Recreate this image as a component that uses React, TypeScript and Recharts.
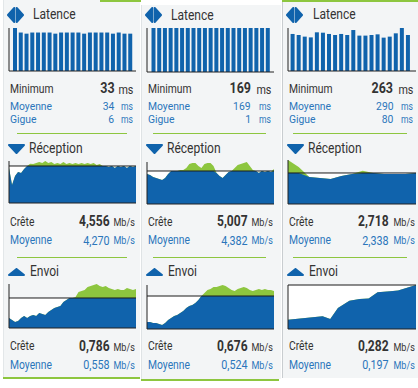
import React from "react";
import { AreaChart, Area, BarChart, Bar, XAxis, YAxis, ReferenceLine } from "recharts";

const W = 418;
const H = 388;
const BLUE = "#1063ac";
const GREEN = "#8dc63f";
const TEXT = "#333333";
const LINK = "#2b76bb";
const PANEL = "#f3f5f6";
const FONT = "Roboto, 'Noto Sans', sans-serif";

// latence, une barre par ping (ms)
const pingA = [38, 34, 33, 34, 34, 34, 34, 33, 34, 34, 34, 34, 33, 34, 34, 34, 34, 33, 34, 33, 33];
const pingB = [169, 169, 169, 169, 169, 169, 169, 169, 169, 169, 169, 169, 169, 169, 169, 169, 169, 169, 169, 169, 169];
const pingC = [292, 284, 271, 265, 305, 302, 292, 284, 292, 284, 323, 279, 279, 284, 289, 263, 271, 297, 339, 284];
const pingMax = [38, 169, 339];

const latMin = [33, 169, 263];
const latAvg = [34, 169, 290];
const latJitter = [6, 1, 80];

// réception (Mb/s)
const recvA = [4.16, 3.18, 3.7, 3.93, 3.87, 4.1, 4.27, 4.4, 4.38, 4.44, 4.5, 4.44, 4.556, 4.44, 4.5, 4.38, 4.44, 4.38, 4.5, 4.38, 4.44, 4.38, 4.44, 4.38, 4.44, 4.38, 4.44, 4.38, 4.44, 4.33, 4.38, 4.27, 4.27, 4.21, 4.27, 4.16, 4.27, 4.21, 4.27, 4.16, 4.27, 4.21, 4.27];
const recvB = [4.18, 4.11, 3.97, 3.9, 3.83, 3.76, 3.9, 4.18, 4.38, 4.38, 4.38, 4.45, 4.45, 4.59, 4.87, 4.94, 4.94, 4.73, 4.59, 4.87, 4.94, 4.94, 4.73, 4.25, 4.04, 3.9, 4.11, 4.31, 4.38, 4.59, 4.8, 4.87, 4.94, 5.007, 4.73, 4.45, 4.38, 4.25, 4.38, 4.31, 4.38, 4.31, 4.52];
const recvC = [2.718, 2.51, 2.22, 2.19, 2.16, 2.25, 2.31, 2.4, 2.34, 2.31, 2.31, 2.31, 2.34];
const recvPeak = [4.556, 5.007, 2.718];
const recvAvg = [4.27, 4.382, 2.338];
const recvFloor = [2.15, 2.09, 1.43];

// envoi (Mb/s)
const sendA = [0.232, 0.199, 0.167, 0.183, 0.232, 0.265, 0.232, 0.265, 0.281, 0.265, 0.314, 0.297, 0.281, 0.33, 0.362, 0.395, 0.411, 0.428, 0.493, 0.525, 0.558, 0.558, 0.574, 0.656, 0.672, 0.688, 0.737, 0.754, 0.77, 0.786, 0.754, 0.737, 0.754, 0.721, 0.705, 0.688, 0.705, 0.688, 0.688, 0.721, 0.705, 0.688, 0.705];
const sendB = [0.165, 0.165, 0.151, 0.151, 0.137, 0.123, 0.151, 0.192, 0.22, 0.248, 0.261, 0.289, 0.317, 0.358, 0.386, 0.4, 0.427, 0.469, 0.524, 0.566, 0.607, 0.621, 0.648, 0.648, 0.662, 0.676, 0.662, 0.635, 0.607, 0.593, 0.621, 0.635, 0.648, 0.635, 0.607, 0.593, 0.607, 0.621, 0.607, 0.621, 0.607, 0.607, 0.593];
const sendC = [0.154, 0.167, 0.157, 0.197, 0.224, 0.23, 0.232, 0.255, 0.259, 0.262, 0.282];
const sendCTime = [0, 2.7, 3.3, 3.9, 4.8, 5.6, 6.3, 7.0, 8.0, 8.6, 10];
const sendPeak = [0.786, 0.676, 0.282];
const sendAvg = [0.558, 0.524, 0.197];
// the third card draws its line at the top of the chart
const sendRef = [0.558, 0.524, 0.282];
const sendFloor = [0.069, 0.068, 0.12];

const pings = [pingA, pingB, pingC];
const recvs = [recvA, recvB, recvC];
const sends = [sendA, sendB, sendC];
const sendTimes = [null, null, sendCTime];

const cols = [
  {
    bg: [3, 0, 137, 377], border: "#e3e7e9", topLine: [100, 141], bottomLine: [377, 3, 140],
    label: 10, plotL: 9, plotR: 136, pad: [3, 3],
    icon: 7, head: 33, headR: 29.3, headE: 30, sep: [17, 127],
    valMs: 114.3, unitMs: 133.3, valMb: 110, unitMb: 135,
    ping: [28, 71], recv: [161, 203], send: [284, 328], latBase: 19.3,
  },
  {
    bg: [141, 5, 140, 374], border: "#dfe3e5", topLine: null, bottomLine: [379, 141, 279],
    label: 148, plotL: 147, plotR: 274, pad: [3.5, 3.5],
    icon: 145, head: 171, headR: 167.3, headE: 168, sep: [153, 266],
    valMs: 251, unitMs: 271.3, valMb: 248, unitMb: 273,
    ping: [28, 72], recv: [162, 204], send: [285, 329], latBase: 20,
  },
  {
    bg: [282, 0, 136, 378], border: "#c9cdd0", topLine: [282, 418], bottomLine: null,
    label: 289, plotL: 288, plotR: 416, pad: [1.6, 5],
    icon: 286, head: 313, headR: 308.3, headE: 309.3, sep: [293, 407],
    valMs: 393.3, unitMs: 413.3, valMb: 389, unitMb: 415,
    ping: [28, 71], recv: [160, 204], send: [285, 329], latBase: 19,
  },
];

const fmt = (v: number) => v.toFixed(3).replace(".", ",");

// text placed on its baseline; the line box is kept tight so rows don't overlap
function Txt({ x, r, base, size, color = TEXT, bold = false, sx = 0.86, children }: any) {
  const lh = size * 0.8;
  const style: React.CSSProperties = {
    position: "absolute",
    top: base - lh / 2 - 0.342 * size,
    fontSize: size,
    lineHeight: `${lh}px`,
    height: lh,
    color,
    fontWeight: bold ? 700 : 400,
    whiteSpace: "nowrap",
    transform: `scaleX(${sx})`,
    transformOrigin: r !== undefined ? "right center" : "left center",
  };
  if (r !== undefined) style.right = W - r;
  else style.left = x;
  return <div style={style}>{children}</div>;
}

function PingIcon({ x, y }: { x: number; y: number }) {
  return (
    <svg style={{ position: "absolute", left: x, top: y }} width={17} height={16} viewBox="0 0 17 16">
      <path d="M1 8 L7.3 1 L7.3 15 Z" fill={BLUE} stroke={BLUE} strokeWidth={2} strokeLinejoin="round" />
      <path d="M16 8 L9.7 1 L9.7 15 Z" fill={BLUE} stroke={BLUE} strokeWidth={2} strokeLinejoin="round" />
    </svg>
  );
}

function TriIcon({ x, y, up }: { x: number; y: number; up: boolean }) {
  return (
    <svg style={{ position: "absolute", left: x, top: y }} width={17} height={up ? 8 : 10}>
      <path
        d={up ? "M1 7 L8.5 1 L16 7 Z" : "M1 1 L16 1 L8.5 9 Z"}
        fill={BLUE}
        stroke={BLUE}
        strokeWidth={2}
        strokeLinejoin="round"
      />
    </svg>
  );
}

function PingChart({ left, right, top, bottom, values, max, pad }: any) {
  const data = values.map((ms: number, i: number) => ({ i, ms }));
  return (
    <div style={{ position: "absolute", left: left - 1, top: top - 1 }}>
      <BarChart
        width={right - left + 1}
        height={bottom - top + 2}
        data={data}
        margin={{ top: 1, right: 0, bottom: 0, left: 0 }}
        barCategoryGap={0}
      >
        <XAxis dataKey="i" height={1} tick={false} tickLine={false} axisLine={{ stroke: "#222" }} padding={{ left: pad[0], right: pad[1] }} />
        <YAxis domain={[0, max]} allowDataOverflow width={1} tick={false} tickLine={false} axisLine={{ stroke: "#222" }} />
        <Bar dataKey="ms" fill={BLUE} barSize={4} isAnimationActive={false} />
      </BarChart>
    </div>
  );
}

function RateChart({ left, right, top, bottom, values, times, floor, peak, line }: any) {
  const data = values.map((v: number, i: number) => ({
    t: times ? times[i] : i,
    v,
    c: Math.min(v, line),
    w: line,
  }));
  const last = data[data.length - 1].t;
  return (
    <div style={{ position: "absolute", left: left - 1, top: top - 1 }}>
      <AreaChart
        width={right - left + 1}
        height={bottom - top + 2}
        data={data}
        margin={{ top: 1, right: 0, bottom: 0, left: 0 }}
      >
        <XAxis dataKey="t" type="number" domain={[0, last]} allowDataOverflow height={1} tick={false} tickLine={false} axisLine={{ stroke: "#222" }} />
        <YAxis domain={[floor, peak]} allowDataOverflow width={1} tick={false} tickLine={false} axisLine={{ stroke: "#222" }} />
        <Area dataKey="w" type="linear" stroke="none" fill="#ffffff" fillOpacity={1} isAnimationActive={false} />
        <Area dataKey="v" type="linear" stroke="none" fill={GREEN} fillOpacity={1} isAnimationActive={false} />
        <Area dataKey="c" type="linear" stroke="none" fill={BLUE} fillOpacity={1} isAnimationActive={false} />
        <ReferenceLine y={line} stroke="#1b1b1b" strokeWidth={1} />
      </AreaChart>
    </div>
  );
}

function Column({ c, k }: any) {
  const [bx, by, bw, bh] = c.bg;
  return (
    <>
      <div style={{ position: "absolute", left: bx, top: by, width: bw, height: bh, background: PANEL, borderLeft: `1px solid ${c.border}`, boxSizing: "border-box" }} />
      {c.topLine && <div style={{ position: "absolute", left: c.topLine[0], top: 0, width: c.topLine[1] - c.topLine[0], height: 1.5, background: GREEN }} />}
      {c.bottomLine && <div style={{ position: "absolute", left: c.bottomLine[1], top: c.bottomLine[0], width: c.bottomLine[2] - c.bottomLine[1], height: 1.5, background: GREEN }} />}

      {/* Latence */}
      <PingIcon x={c.icon} y={7} />
      <Txt x={c.head} base={c.latBase} size={14}>Latence</Txt>
      <PingChart left={c.plotL} right={c.plotR} top={c.ping[0]} bottom={c.ping[1]} values={pings[k]} max={pingMax[k]} pad={c.pad} />
      <Txt x={c.label} base={94} size={12}>Minimum</Txt>
      <Txt r={c.valMs} base={94} size={14.5} bold>{latMin[k]}</Txt>
      <Txt r={c.unitMs} base={94} size={12.5}>ms</Txt>
      <Txt x={c.label} base={110.7} size={11} sx={0.94} color={LINK}>Moyenne</Txt>
      <Txt r={c.valMs} base={110.7} size={11} sx={0.94} color={LINK}>{latAvg[k]}</Txt>
      <Txt r={c.unitMs} base={110.7} size={10} color={LINK}>ms</Txt>
      <Txt x={c.label} base={123.9} size={11} sx={0.94} color={LINK}>Gigue</Txt>
      <Txt r={c.valMs} base={123.9} size={11} sx={0.94} color={LINK}>{latJitter[k]}</Txt>
      <Txt r={c.unitMs} base={123.9} size={10} color={LINK}>ms</Txt>
      <div style={{ position: "absolute", left: c.sep[0], top: 132.5, width: c.sep[1] - c.sep[0], height: 1.5, background: GREEN }} />

      {/* Réception */}
      <TriIcon x={c.icon + 1} y={144} up={false} />
      <Txt x={c.headR} base={153.3} size={14}>Réception</Txt>
      <RateChart left={c.plotL} right={c.plotR} top={c.recv[0]} bottom={c.recv[1]} values={recvs[k]} floor={recvFloor[k]} peak={recvPeak[k]} line={recvAvg[k]} />
      <Txt x={c.label} base={226.7} size={12}>Crête</Txt>
      <Txt r={c.valMb} base={226.7} size={14} bold>{fmt(recvPeak[k])}</Txt>
      <Txt r={c.unitMb} base={226.7} size={10.5}>Mb/s</Txt>
      <Txt x={c.label} base={245} size={12} color={LINK}>Moyenne</Txt>
      <Txt r={c.valMb} base={245} size={12.5} color={LINK}>{fmt(recvAvg[k])}</Txt>
      <Txt r={c.unitMb} base={245} size={10.5} color={LINK}>Mb/s</Txt>
      <div style={{ position: "absolute", left: c.sep[0], top: 256.5, width: c.sep[1] - c.sep[0], height: 1.5, background: GREEN }} />

      {/* Envoi */}
      <TriIcon x={c.icon + 1} y={268} up />
      <Txt x={c.headE} base={276.3} size={14}>Envoi</Txt>
      <RateChart left={c.plotL} right={c.plotR} top={c.send[0]} bottom={c.send[1]} values={sends[k]} times={sendTimes[k]} floor={sendFloor[k]} peak={sendPeak[k]} line={sendRef[k]} />
      <Txt x={c.label} base={351.3} size={12}>Crête</Txt>
      <Txt r={c.valMb} base={351.3} size={14} bold>{fmt(sendPeak[k])}</Txt>
      <Txt r={c.unitMb} base={351.3} size={10.5}>Mb/s</Txt>
      <Txt x={c.label} base={369.7} size={12} color={LINK}>Moyenne</Txt>
      <Txt r={c.valMb} base={369.7} size={12.5} color={LINK}>{fmt(sendAvg[k])}</Txt>
      <Txt r={c.unitMb} base={369.7} size={10.5} color={LINK}>Mb/s</Txt>
    </>
  );
}

export default function App() {
  return (
    <div style={{ position: "absolute", left: 0, top: 0, width: W, height: H, background: "#fff", overflow: "hidden", fontFamily: FONT }}>
      {cols.map((c, k) => (
        <Column key={k} c={c} k={k} />
      ))}
    </div>
  );
}
